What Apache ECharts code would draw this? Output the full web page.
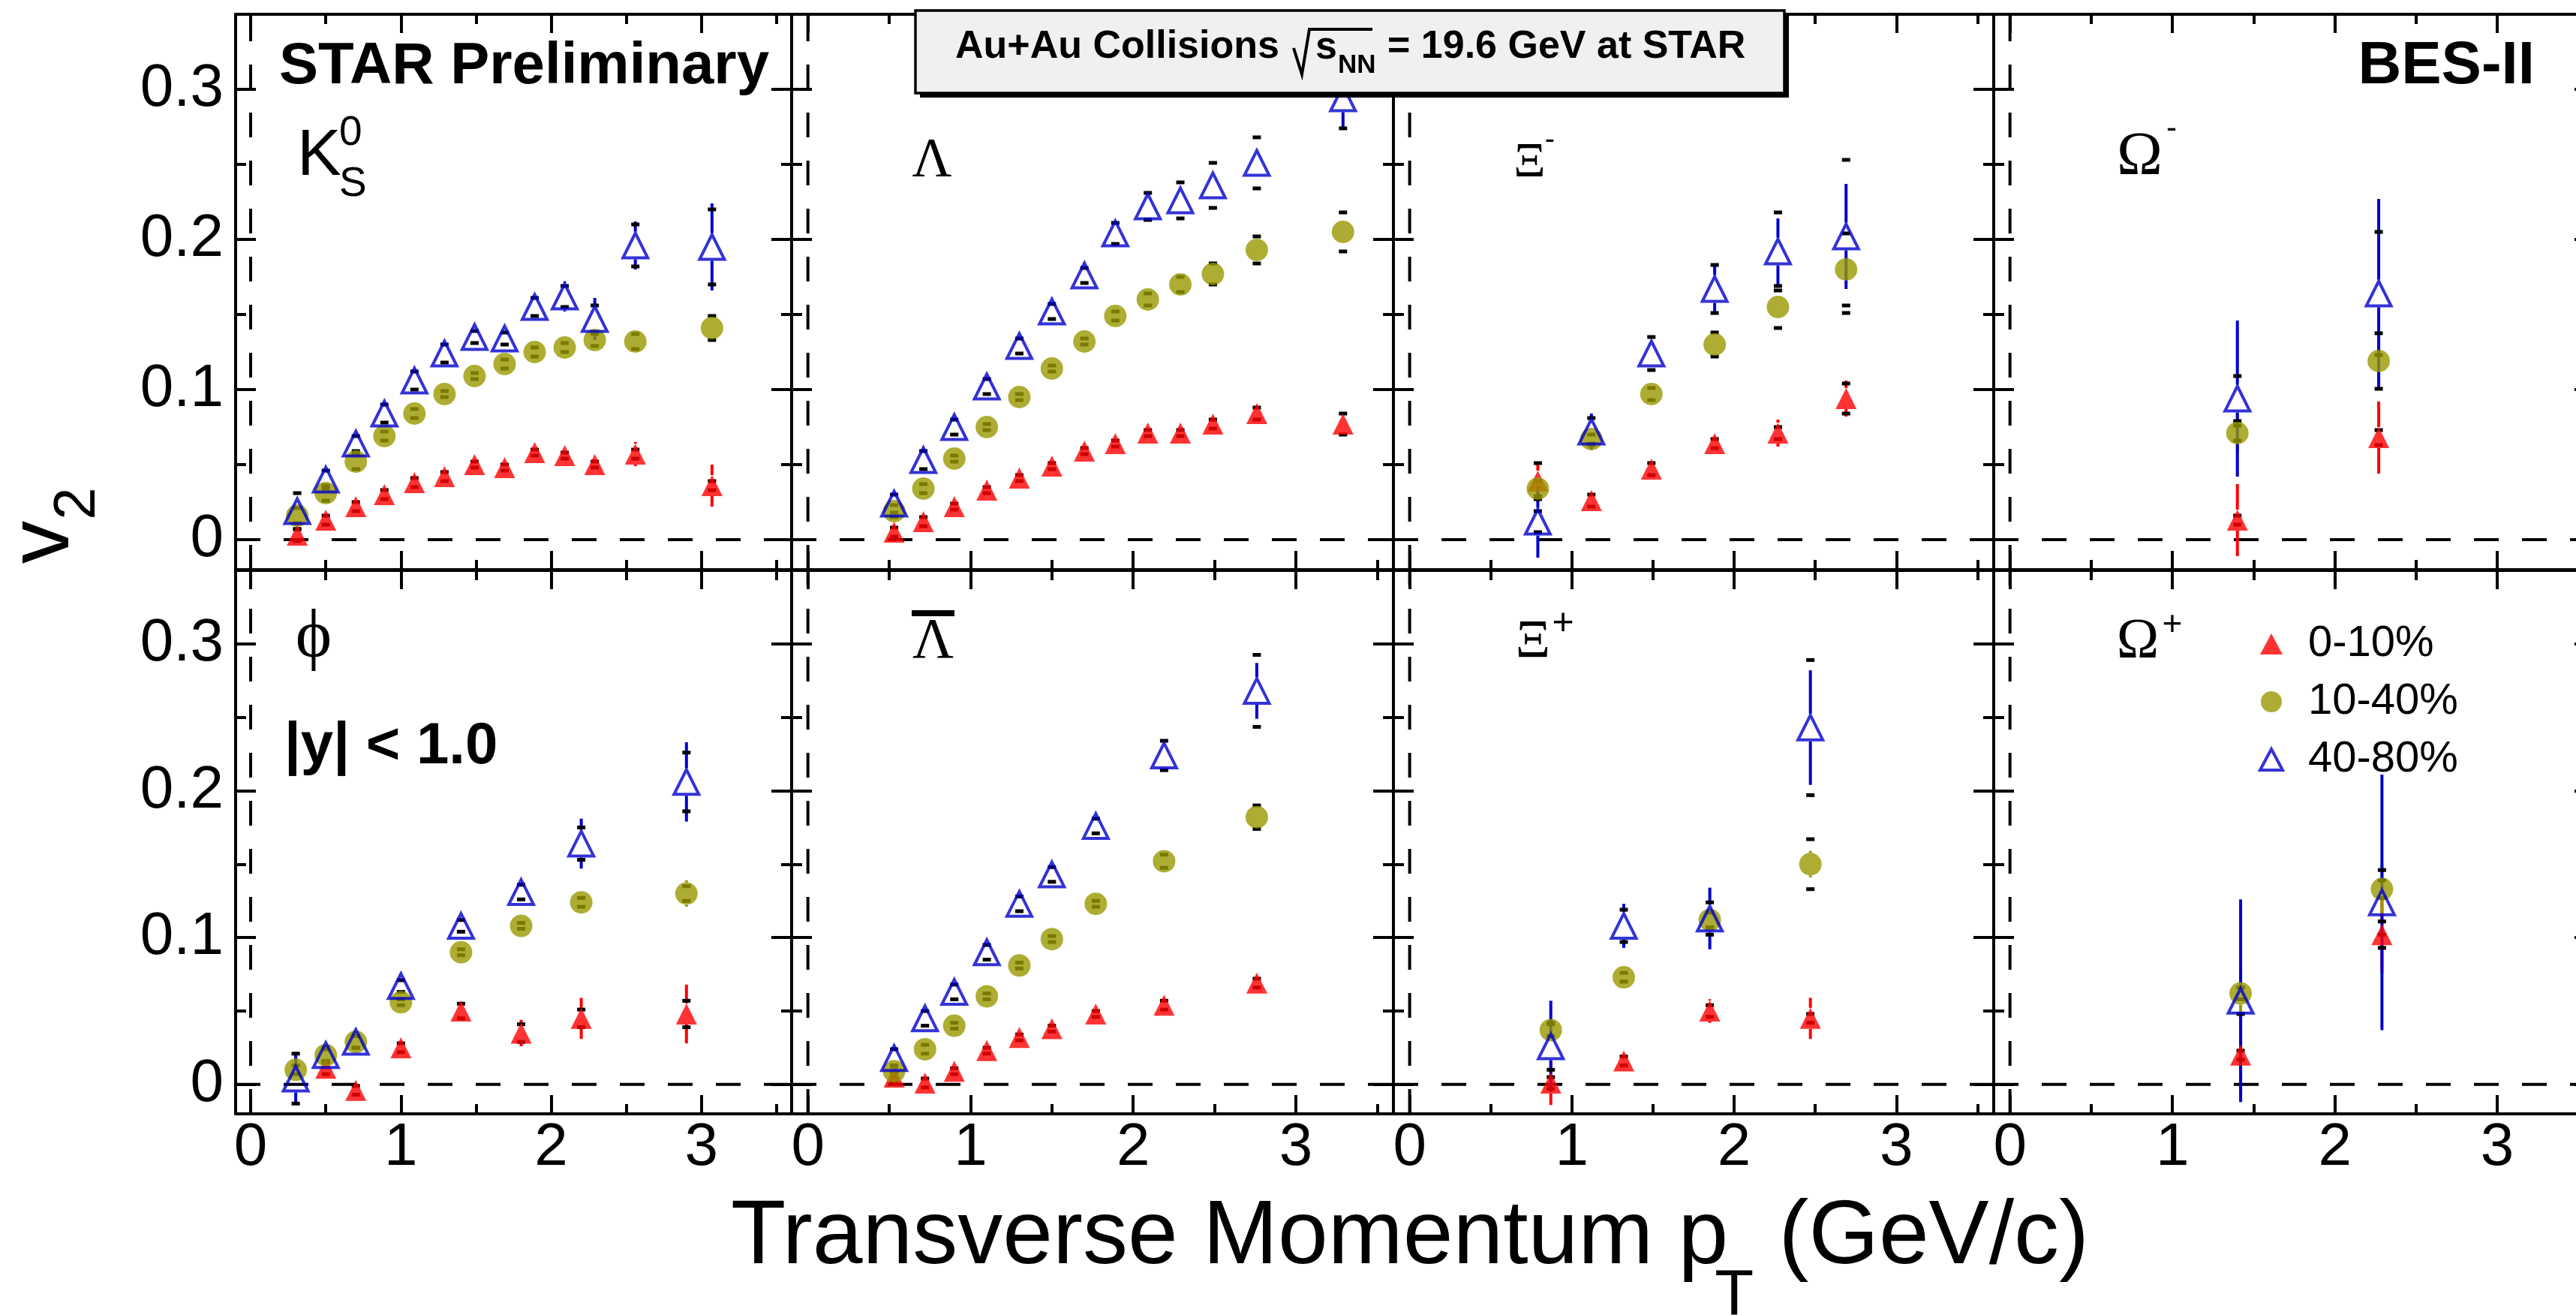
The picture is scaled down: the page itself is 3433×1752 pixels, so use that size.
<!DOCTYPE html>
<html>
<head>
<meta charset="utf-8">
<script src="https://cdn.jsdelivr.net/npm/echarts@6/dist/echarts.min.js"></script>
<style>
html, body { margin: 0; padding: 0; background: #fff; }
#chart { width: 3433px; height: 1752px; }
</style>
</head>
<body>
<div id="chart"></div>
<script>
// ---------------- data: v2 vs pT, Au+Au 19.6 GeV ----------------
const centralities = ['0-10%', '10-40%', '40-80%'];
const xTicks = [0, 1, 2, 3];
const xMinorTicks = [0.5, 1.5, 2.5, 3.5];
const yTicks = [0, 0.1, 0.2, 0.3];
const yMinorTicks = [0.05, 0.15, 0.25];

// K0S
const ptK0s = [0.31, 0.50, 0.70, 0.89, 1.09, 1.29, 1.49, 1.69, 1.89, 2.09, 2.29, 2.56, 3.07];
const k0s010 = [0.003, 0.013, 0.022, 0.030, 0.038, 0.042, 0.050, 0.048, 0.058, 0.056, 0.050, 0.057, 0.036];
const k0s010Stat = [0.002, 0.002, 0.002, 0.002, 0.002, 0.002, 0.002, 0.002, 0.002, 0.003, 0.003, 0.008, 0.014];
const k0s010Sys = [0.004, 0.003, 0.003, 0.003, 0.003, 0.003, 0.002, 0.002, 0.002, 0.002, 0.002, 0.003, 0.003];
const k0s1040 = [0.016, 0.031, 0.052, 0.069, 0.084, 0.097, 0.109, 0.117, 0.125, 0.128, 0.133, 0.132, 0.141];
const k0s1040Stat = [0.002, 0.002, 0.002, 0.002, 0.002, 0.002, 0.002, 0.002, 0.002, 0.002, 0.003, 0.003, 0.005];
const k0s1040Sys = [0.005, 0.005, 0.005, 0.003, 0.003, 0.002, 0.002, 0.003, 0.003, 0.003, 0.004, 0.005, 0.008];
const k0s4080 = [0.019, 0.040, 0.064, 0.084, 0.106, 0.124, 0.135, 0.134, 0.155, 0.162, 0.147, 0.196, 0.195];
const k0s4080Stat = [0.004, 0.003, 0.003, 0.003, 0.003, 0.003, 0.003, 0.004, 0.005, 0.010, 0.014, 0.016, 0.029];
const k0s4080Sys = [0.012, 0.006, 0.005, 0.006, 0.006, 0.006, 0.004, 0.004, 0.006, 0.007, 0.009, 0.014, 0.025];

// Lambda
const ptLam = [0.53, 0.71, 0.90, 1.10, 1.30, 1.50, 1.70, 1.89, 2.09, 2.29, 2.49, 2.76, 3.29];
const lam010 = [0.005, 0.012, 0.022, 0.033, 0.041, 0.049, 0.059, 0.064, 0.071, 0.071, 0.077, 0.084, 0.077];
const lam010Stat = [0.002, 0.002, 0.002, 0.002, 0.002, 0.002, 0.002, 0.002, 0.002, 0.002, 0.002, 0.003, 0.004];
const lam010Sys = [0.003, 0.003, 0.002, 0.002, 0.002, 0.002, 0.002, 0.002, 0.002, 0.002, 0.003, 0.004, 0.007];
const lam1040 = [0.019, 0.034, 0.054, 0.075, 0.095, 0.114, 0.132, 0.149, 0.160, 0.170, 0.177, 0.193, 0.205];
const lam1040Stat = [0.002, 0.002, 0.002, 0.002, 0.002, 0.002, 0.002, 0.002, 0.002, 0.002, 0.002, 0.003, 0.004];
const lam1040Sys = [0.004, 0.003, 0.002, 0.002, 0.002, 0.002, 0.002, 0.003, 0.004, 0.005, 0.007, 0.009, 0.013];
const lam4080 = [0.024, 0.053, 0.075, 0.102, 0.129, 0.152, 0.176, 0.204, 0.222, 0.226, 0.236, 0.251, 0.294];
const lam4080Stat = [0.003, 0.003, 0.003, 0.003, 0.003, 0.003, 0.003, 0.003, 0.004, 0.005, 0.008, 0.009, 0.020];
const lam4080Sys = [0.006, 0.006, 0.005, 0.005, 0.005, 0.005, 0.005, 0.007, 0.009, 0.012, 0.015, 0.017, 0.020];

// Xi-
const ptXiM = [0.79, 1.12, 1.49, 1.88, 2.27, 2.69];
const xiM010 = [0.039, 0.026, 0.047, 0.064, 0.071, 0.094];
const xiM010Stat = [0.013, 0.003, 0.003, 0.004, 0.009, 0.012];
const xiM010Sys = [0.012, 0.004, 0.004, 0.003, 0.004, 0.010];
const xiM1040 = [0.034, 0.067, 0.097, 0.130, 0.155, 0.180];
const xiM1040Stat = [0.004, 0.003, 0.003, 0.004, 0.005, 0.007];
const xiM1040Sys = [0.005, 0.003, 0.004, 0.008, 0.014, 0.024];
const xiM4080 = [0.012, 0.072, 0.124, 0.167, 0.192, 0.202];
const xiM4080Stat = [0.024, 0.012, 0.006, 0.016, 0.022, 0.035];
const xiM4080Sys = [0.007, 0.009, 0.011, 0.016, 0.026, 0.051];

// Omega-
const ptOmM = [1.40, 2.27];
const omM010 = [0.013, 0.068];
const omM010Stat = [0.024, 0.024];
const omM010Sys = [0.003, 0.005];
const omM1040 = [0.071, 0.119];
const omM1040Stat = [0.013, 0.014];
const omM1040Sys = [0.005, 0.0185];
const omM4080 = [0.094, 0.164];
const omM4080Stat = [0.052, 0.063];
const omM4080Sys = [0.015, 0.041];

// phi
const ptPhi = [0.30, 0.50, 0.70, 1.00, 1.40, 1.80, 2.20, 2.90];
const phi010 = [null, 0.011, -0.004, 0.025, 0.050, 0.035, 0.045, 0.048];
const phi010Stat = [0, 0.005, 0.003, 0.003, 0.004, 0.009, 0.014, 0.020];
const phi010Sys = [0, 0.004, 0.003, 0.003, 0.005, 0.006, 0.006, 0.009];
const phi1040 = [0.010, 0.020, 0.029, 0.056, 0.090, 0.108, 0.124, 0.130];
const phi1040Stat = [0.004, 0.003, 0.003, 0.003, 0.003, 0.003, 0.004, 0.009];
const phi1040Sys = [0.003, 0.005, 0.004, 0.002, 0.002, 0.002, 0.003, 0.005];
const phi4080 = [0.004, 0.020, 0.029, 0.067, 0.108, 0.131, 0.164, 0.206];
const phi4080Stat = [0.017, 0.006, 0.004, 0.004, 0.004, 0.006, 0.017, 0.027];
const phi4080Sys = [0.017, 0.004, 0.004, 0.004, 0.004, 0.005, 0.011, 0.020];

// anti-Lambda
const ptLamBar = [0.53, 0.72, 0.90, 1.10, 1.30, 1.50, 1.77, 2.19, 2.76];
const lamBar010 = [0.005, 0.001, 0.009, 0.023, 0.032, 0.038, 0.048, 0.054, 0.069];
const lamBar010Stat = [0.002, 0.002, 0.002, 0.002, 0.002, 0.002, 0.002, 0.003, 0.003];
const lamBar010Sys = [0.003, 0.003, 0.002, 0.002, 0.002, 0.002, 0.002, 0.003, 0.003];
const lamBar1040 = [0.009, 0.024, 0.040, 0.060, 0.081, 0.099, 0.123, 0.152, 0.182];
const lamBar1040Stat = [0.002, 0.002, 0.002, 0.002, 0.002, 0.002, 0.002, 0.003, 0.004];
const lamBar1040Sys = [0.004, 0.003, 0.002, 0.002, 0.002, 0.002, 0.002, 0.0045, 0.008];
const lamBar4080 = [0.018, 0.045, 0.063, 0.090, 0.123, 0.143, 0.176, 0.224, 0.268];
const lamBar4080Stat = [0.003, 0.003, 0.003, 0.003, 0.003, 0.003, 0.003, 0.004, 0.019];
const lamBar4080Sys = [0.006, 0.005, 0.005, 0.005, 0.005, 0.005, 0.005, 0.010, 0.0245];

// Xi+
const ptXiP = [0.87, 1.32, 1.85, 2.47];
const xiP010 = [0.001, 0.016, 0.050, 0.045];
const xiP010Stat = [0.015, 0.003, 0.008, 0.014];
const xiP010Sys = [0.004, 0.003, 0.004, 0.003];
const xiP1040 = [0.037, 0.073, 0.112, 0.150];
const xiP1040Stat = [0.005, 0.003, 0.005, 0.009];
const xiP1040Sys = [0.004, 0.003, 0.005, 0.017];
const xiP4080 = [0.026, 0.108, 0.113, 0.243];
const xiP4080Stat = [0.031, 0.015, 0.021, 0.039];
const xiP4080Sys = [0.016, 0.011, 0.011, 0.046];

// Omega+
const ptOmP = [1.42, 2.29];
const omP010 = [0.020, 0.102];
const omP010Stat = [0.027, 0.026];
const omP010Sys = [0.003, 0.009];
const omP1040 = [0.062, 0.133];
const omP1040Stat = [0.016, 0.017];
const omP1040Sys = [0.004, 0.006];
const omP4080 = [0.057, 0.124];
const omP4080Stat = [0.069, 0.087];
const omP4080Sys = [0.009, 0.022];

// ---------------- layout & style ----------------
const SANS = "'Liberation Sans', Arial, Helvetica, sans-serif";
const SERIF = "'Liberation Serif', 'DejaVu Serif', 'Times New Roman', serif";
const X_MIN = -0.1, X_MAX = 3.6, Y_MIN = -0.02, Y_MAX = 0.35;
const colLeft = [314, 1055, 1857, 2657];
const colWidth = [741, 802, 800, 801];
const rowTop = [19, 760];
const rowHeight = [740, 724];

const markerColor = ['#ff0000', '#999900', '#0000cc'];
const markerHalf = [14, 15, 18.5];

const panels = [
  { pt: ptK0s, v: [k0s010, k0s1040, k0s4080], stat: [k0s010Stat, k0s1040Stat, k0s4080Stat], sys: [k0s010Sys, k0s1040Sys, k0s4080Sys] },
  { pt: ptLam, v: [lam010, lam1040, lam4080], stat: [lam010Stat, lam1040Stat, lam4080Stat], sys: [lam010Sys, lam1040Sys, lam4080Sys] },
  { pt: ptXiM, v: [xiM010, xiM1040, xiM4080], stat: [xiM010Stat, xiM1040Stat, xiM4080Stat], sys: [xiM010Sys, xiM1040Sys, xiM4080Sys] },
  { pt: ptOmM, v: [omM010, omM1040, omM4080], stat: [omM010Stat, omM1040Stat, omM4080Stat], sys: [omM010Sys, omM1040Sys, omM4080Sys] },
  { pt: ptPhi, v: [phi010, phi1040, phi4080], stat: [phi010Stat, phi1040Stat, phi4080Stat], sys: [phi010Sys, phi1040Sys, phi4080Sys] },
  { pt: ptLamBar, v: [lamBar010, lamBar1040, lamBar4080], stat: [lamBar010Stat, lamBar1040Stat, lamBar4080Stat], sys: [lamBar010Sys, lamBar1040Sys, lamBar4080Sys] },
  { pt: ptXiP, v: [xiP010, xiP1040, xiP4080], stat: [xiP010Stat, xiP1040Stat, xiP4080Stat], sys: [xiP010Sys, xiP1040Sys, xiP4080Sys] },
  { pt: ptOmP, v: [omP010, omP1040, omP4080], stat: [omP010Stat, omP1040Stat, omP4080Stat], sys: [omP010Sys, omP1040Sys, omP4080Sys] }
];

const grids = [], xAxes = [], yAxes = [], series = [];

function xAxis(g, pos, major, showLabel) {
  return {
    type: 'value', gridIndex: g, position: pos, min: X_MIN, max: X_MAX, silent: true,
    axisLine: { show: major, onZero: false, lineStyle: { color: '#000', width: 4 } },
    axisTick: { show: true, inside: true, length: major ? 25 : 13,
      customValues: major ? xTicks : xMinorTicks, lineStyle: { color: '#000', width: 4 } },
    axisLabel: { show: showLabel, customValues: xTicks, margin: 6, fontSize: 80,
      fontFamily: SANS, color: '#000', formatter: v => String(v) },
    splitLine: { show: false }, minorTick: { show: false }
  };
}
function yAxis(g, pos, major, showLabel) {
  return {
    type: 'value', gridIndex: g, position: pos, min: Y_MIN, max: Y_MAX, silent: true,
    axisLine: { show: major, onZero: false, lineStyle: { color: '#000', width: 4 } },
    axisTick: { show: true, inside: true, length: major ? 27 : 14,
      customValues: major ? yTicks : yMinorTicks, lineStyle: { color: '#000', width: 4 } },
    axisLabel: { show: showLabel, customValues: yTicks, margin: 16, fontSize: 80,
      fontFamily: SANS, color: '#000', formatter: v => (v === 0 ? '0' : v.toFixed(1)) },
    splitLine: { show: false }, minorTick: { show: false }
  };
}

// stat error bar drawn outside the marker body
function statRender(color, half) {
  return function (params, api) {
    const x = api.value(0), v = api.value(1), e = api.value(2);
    const c = api.coord([x, v]);
    const yt = api.coord([x, v + e])[1];
    const yb = api.coord([x, v - e])[1];
    const kids = [];
    const st = { stroke: color, lineWidth: 4 };
    if (yt < c[1] - half) kids.push({ type: 'line', shape: { x1: c[0], y1: yt, x2: c[0], y2: c[1] - half }, style: st });
    if (yb > c[1] + half) kids.push({ type: 'line', shape: { x1: c[0], y1: c[1] + half, x2: c[0], y2: yb }, style: st });
    return { type: 'group', children: kids };
  };
}
// systematic uncertainty caps
function sysRender(params, api) {
  const x = api.value(0), v = api.value(1), s = api.value(2);
  const up = api.coord([x, v + s]);
  const dn = api.coord([x, v - s]);
  return {
    type: 'group',
    children: [
      { type: 'rect', shape: { x: up[0] - 5.5, y: up[1] - 2.5, width: 11, height: 5 }, style: { fill: '#000' } },
      { type: 'rect', shape: { x: dn[0] - 5.5, y: dn[1] - 2.5, width: 11, height: 5 }, style: { fill: '#000' } }
    ]
  };
}
// dashed zero lines
function zeroRender(params, api) {
  const a = api.coord([X_MIN, 0]), b = api.coord([X_MAX, 0]);
  const c = api.coord([0, Y_MIN]), d = api.coord([0, Y_MAX]);
  const st = { stroke: '#000', lineWidth: 4, lineDash: [33, 31] };
  return {
    type: 'group',
    children: [
      { type: 'line', shape: { x1: a[0], y1: a[1], x2: b[0], y2: b[1] }, style: st },
      { type: 'line', shape: { x1: c[0], y1: c[1], x2: d[0], y2: d[1] }, style: st }
    ]
  };
}

panels.forEach((p, g) => {
  const row = g < 4 ? 0 : 1, col = g % 4;
  grids.push({ left: colLeft[col], top: rowTop[row], width: colWidth[col], height: rowHeight[row],
    containLabel: false, outerBoundsMode: 'none' });
  xAxes.push(xAxis(g, 'bottom', true, row === 1), xAxis(g, 'bottom', false, false),
             xAxis(g, 'top', true, false), xAxis(g, 'top', false, false));
  yAxes.push(yAxis(g, 'left', true, col === 0), yAxis(g, 'left', false, false),
             yAxis(g, 'right', true, false), yAxis(g, 'right', false, false));
  const ax = { xAxisIndex: 4 * g, yAxisIndex: 4 * g };

  series.push(Object.assign({ type: 'custom', silent: true, data: [[0, 0]],
    renderItem: zeroRender, encode: { x: 0, y: 1 } }, ax));

  const sysData = [];
  for (let k = 0; k < 3; k++) {
    const pts = [], errs = [];
    p.pt.forEach((x, i) => {
      const v = p.v[k][i];
      if (v === null) return;
      pts.push([x, v]);
      errs.push([x, v, p.stat[k][i]]);
      sysData.push([x, v, p.sys[k][i]]);
    });
    series.push(Object.assign({ type: 'custom', silent: true, data: errs,
      renderItem: statRender(markerColor[k], markerHalf[k]), encode: { x: 0, y: 1 } }, ax));
    const sc = { type: 'scatter', name: centralities[k], silent: true, data: pts, z: 2 };
    if (k === 0) { sc.symbol = 'triangle'; sc.symbolSize = [28, 28]; sc.itemStyle = { color: '#ff0000' }; }
    if (k === 1) { sc.symbol = 'circle'; sc.symbolSize = 30; sc.itemStyle = { color: '#999900' }; }
    if (k === 2) { sc.symbol = 'triangle'; sc.symbolSize = [33, 33];
      sc.itemStyle = { color: 'rgba(0,0,0,0)', borderColor: '#0000cc', borderWidth: 4 }; }
    series.push(Object.assign(sc, ax));
  }
  series.push(Object.assign({ type: 'custom', silent: true, data: sysData,
    renderItem: sysRender, encode: { x: 0, y: 1 } }, ax));
});

// ---------------- text ----------------
function txt(x, y, text, size, family, opts) {
  opts = opts || {};
  const align = opts.align || 'left';
  return {
    type: 'text', x: x, y: y, z: opts.z || 50, rotation: opts.rotation || 0, silent: true,
    style: {
      text: text, x: 0, y: 0,
      font: (opts.weight || 'normal') + ' ' + size + 'px ' + family,
      fill: '#000', align: align, textAlign: align,
      verticalAlign: 'middle', textVerticalAlign: 'middle'
    }
  };
}

const meas = document.createElement('canvas').getContext('2d');
function textWidth(s, font) { meas.font = font; return meas.measureText(s).width; }

const graphics = [];
// title box
graphics.push({ type: 'rect', z: 100, silent: true, shape: { x: 1226, y: 20, width: 1158, height: 110 }, style: { fill: '#000' } });
graphics.push({ type: 'rect', z: 101, silent: true, shape: { x: 1220, y: 14, width: 1158, height: 110 },
  style: { fill: '#f0f0f0', stroke: '#000', lineWidth: 3.5 } });
graphics.push(txt(1273, 62.5, 'Au+Au Collisions', 52, SANS, { weight: 'bold', z: 102 }));
graphics.push({ type: 'polyline', z: 102, silent: true,
  shape: { points: [[1724, 64], [1735, 99], [1745, 39], [1829, 39]] },
  style: { stroke: '#000', lineWidth: 4, fill: null } });
graphics.push(txt(1753, 64, 's', 52, SANS, { weight: 'bold', z: 102 }));
graphics.push(txt(1783, 87.5, 'NN', 35, SANS, { weight: 'bold', z: 102 }));
graphics.push(txt(1849, 62.5, '= 19.6 GeV at STAR', 52, SANS, { weight: 'bold', z: 102 }));

// panel annotations
graphics.push(txt(372, 89, 'STAR Preliminary', 78, SANS, { weight: 'bold' }));
graphics.push(txt(3378, 88.5, 'BES-II', 80, SANS, { weight: 'bold', align: 'right' }));
graphics.push(txt(396, 209, 'K', 88, SANS));
graphics.push(txt(452, 177.5, '0', 55, SANS));
graphics.push(txt(452, 246, 'S', 55, SANS));
graphics.push(txt(1242, 216, 'Λ', 73, SERIF, { align: 'center' }));
graphics.push(txt(2038.5, 218, 'Ξ', 66, SERIF, { align: 'center' }));
graphics.push(txt(2065.5, 186.5, '-', 40, SANS, { align: 'center' }));
graphics.push(txt(2851.5, 210, 'Ω', 82, SERIF, { align: 'center' }));
graphics.push(txt(2894, 172.6, '-', 42, SANS, { align: 'center' }));
graphics.push(txt(418, 851, 'ϕ', 92, SERIF, { align: 'center' }));
graphics.push(txt(379, 995, '|y| < 1.0', 78, SANS, { weight: 'bold' }));
graphics.push({ type: 'rect', z: 50, silent: true, shape: { x: 1215, y: 813, width: 57, height: 8 }, style: { fill: '#000' } });
graphics.push(txt(1243.5, 856, 'Λ', 76, SERIF, { align: 'center' }));
graphics.push(txt(2043, 856, 'Ξ', 72, SERIF, { align: 'center' }));
graphics.push(txt(2083, 831, '+', 50, SANS, { align: 'center' }));
graphics.push(txt(2849, 856.5, 'Ω', 76, SERIF, { align: 'center' }));
graphics.push(txt(2895, 833.5, '+', 46, SANS, { align: 'center' }));

// y-axis title (rotated)
graphics.push(txt(59, 722.5, 'v', 115, SANS, { align: 'center', rotation: Math.PI / 2 }));
graphics.push(txt(104.5, 671, '2', 78, SANS, { align: 'center', rotation: Math.PI / 2 }));

// x-axis title
const tFont = '120px ' + SANS, sFont = '85px ' + SANS;
const t1 = 'Transverse Momentum p', t3 = ' (GeV/c)';
const x1 = 974;
const xT = x1 + textWidth(t1, tFont) - 18;
const x3 = xT + textWidth('T', sFont);
graphics.push(txt(x1, 1649.5, t1, 120, SANS));
graphics.push(txt(xT, 1728, 'T', 85, SANS));
graphics.push(txt(x3, 1649.5, t3, 120, SANS));

const chart = echarts.init(document.getElementById('chart'), null, { renderer: 'canvas' });
chart.setOption({
  animation: false,
  backgroundColor: '#fff',
  textStyle: { fontFamily: SANS },
  grid: grids,
  xAxis: xAxes,
  yAxis: yAxes,
  legend: {
    orient: 'vertical', left: 3010, top: 829, padding: 0,
    itemWidth: 30, itemHeight: 28, itemGap: 19, selectedMode: false,
    symbolKeepAspect: true,
    textStyle: { fontSize: 58, fontFamily: SANS, color: '#000', padding: [0, 0, 0, 29] },
    data: [
      { name: '0-10%' },
      { name: '10-40%' },
      { name: '40-80%', itemStyle: { color: 'rgba(0,0,0,0)', borderColor: '#0000cc', borderWidth: 4 } }
    ]
  },
  graphic: { elements: graphics },
  series: series
});
</script>
</body>
</html>
